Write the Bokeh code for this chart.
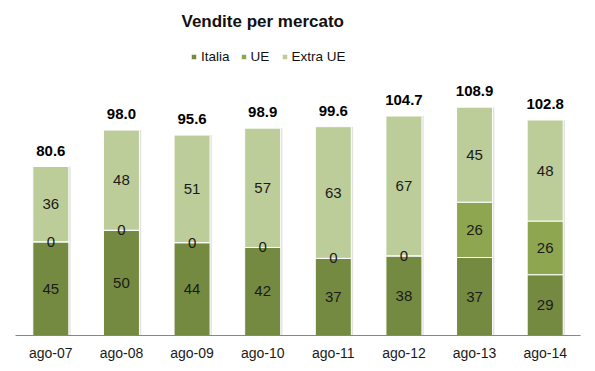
from bokeh.plotting import figure
from bokeh.models import ColumnDataSource, FactorRange, Legend, LegendItem, Range1d
from bokeh.transform import dodge
from bokeh.core.properties import value
from bokeh.embed import file_html
from bokeh.resources import INLINE

categories = ["ago-07", "ago-08", "ago-09", "ago-10", "ago-11", "ago-12", "ago-13", "ago-14"]
italia = [44.7, 50.2, 44.3, 42.0, 36.8, 38.0, 37.2, 29.0]
ue = [0.0, 0.0, 0.0, 0.0, 0.0, 0.0, 26.4, 25.6]
extra_ue = [35.9, 47.8, 51.3, 56.9, 62.8, 66.7, 45.3, 48.2]
series_names = ["Italia", "UE", "Extra UE"]
colors = ["#758a41", "#8ea64f", "#bccd99"]

FONT = "Liberation Sans"

totals = [a + b + c for a, b, c in zip(italia, ue, extra_ue)]

p = figure(x_range=FactorRange(*categories, range_padding=0), y_range=Range1d(0, 143.1),
           width=590, height=371, output_backend="svg", toolbar_location=None,
           min_border_left=15, min_border_right=10, min_border_top=35, min_border_bottom=36)

src = ColumnDataSource(dict(cat=categories, italia=italia, ue=ue, extra=extra_ue,
                            total=totals, total_lbl=["%.1f" % t for t in totals]))

# soft shadow
p.vbar(x=dodge("cat", 0.025, range=p.x_range), top="total", width=0.51, bottom=0,
       source=src, fill_color="#d9d9d9", line_color=None, fill_alpha=0.8)

rs = p.vbar_stack(["italia", "ue", "extra"], x="cat", width=0.51, source=src,
                  fill_color=colors, line_color="white", line_width=1)

# segment labels
seg_x, seg_y, seg_t = [], [], []
for i, c in enumerate(categories):
    base = 0.0
    for vals in (italia, ue, extra_ue):
        v = vals[i]
        seg_x.append(c)
        seg_y.append(base + v / 2)
        seg_t.append("%d" % round(v))
        base += v
p.text(x=seg_x, y=seg_y, text=seg_t, text_align="center", text_baseline="middle",
       text_font=value(FONT), text_font_size="15px", text_color="#1a1a1a")

p.text(x="cat", y="total", text="total_lbl", source=src, text_align="center",
       text_baseline="bottom", y_offset=-11, text_font=value(FONT),
       text_font_size="15px", text_font_style="bold", text_color="black")

legend = Legend(items=[LegendItem(label=n, renderers=[r]) for n, r in zip(series_names, rs)],
                orientation="horizontal", location=(175, 271),
                glyph_width=7, glyph_height=7, label_standoff=4, spacing=10,
                padding=2, margin=0, border_line_color=None, background_fill_alpha=0,
                label_text_font=FONT, label_text_font_size="13.5px", label_text_color="#111111")
p.add_layout(legend, "center")

p.title.text = "Vendite per mercato"
p.title.text_font = FONT
p.title.text_font_size = "17px"
p.title.text_font_style = "bold"
p.title.text_color = "#111111"
p.title.align = "left"
p.title.offset = 166

p.yaxis.visible = False
p.xgrid.visible = False
p.ygrid.visible = False
p.outline_line_color = None
p.xaxis.axis_line_color = "#868686"
p.xaxis.major_tick_line_color = None
p.xaxis.minor_tick_line_color = None
p.xaxis.major_tick_out = 0
p.xaxis.major_tick_in = 0
p.xaxis.major_label_text_font = FONT
p.xaxis.major_label_text_font_size = "14px"
p.xaxis.major_label_text_color = "#1a1a1a"
p.xaxis.major_label_standoff = 9

open("out.html", "w").write(file_html(p, INLINE))
